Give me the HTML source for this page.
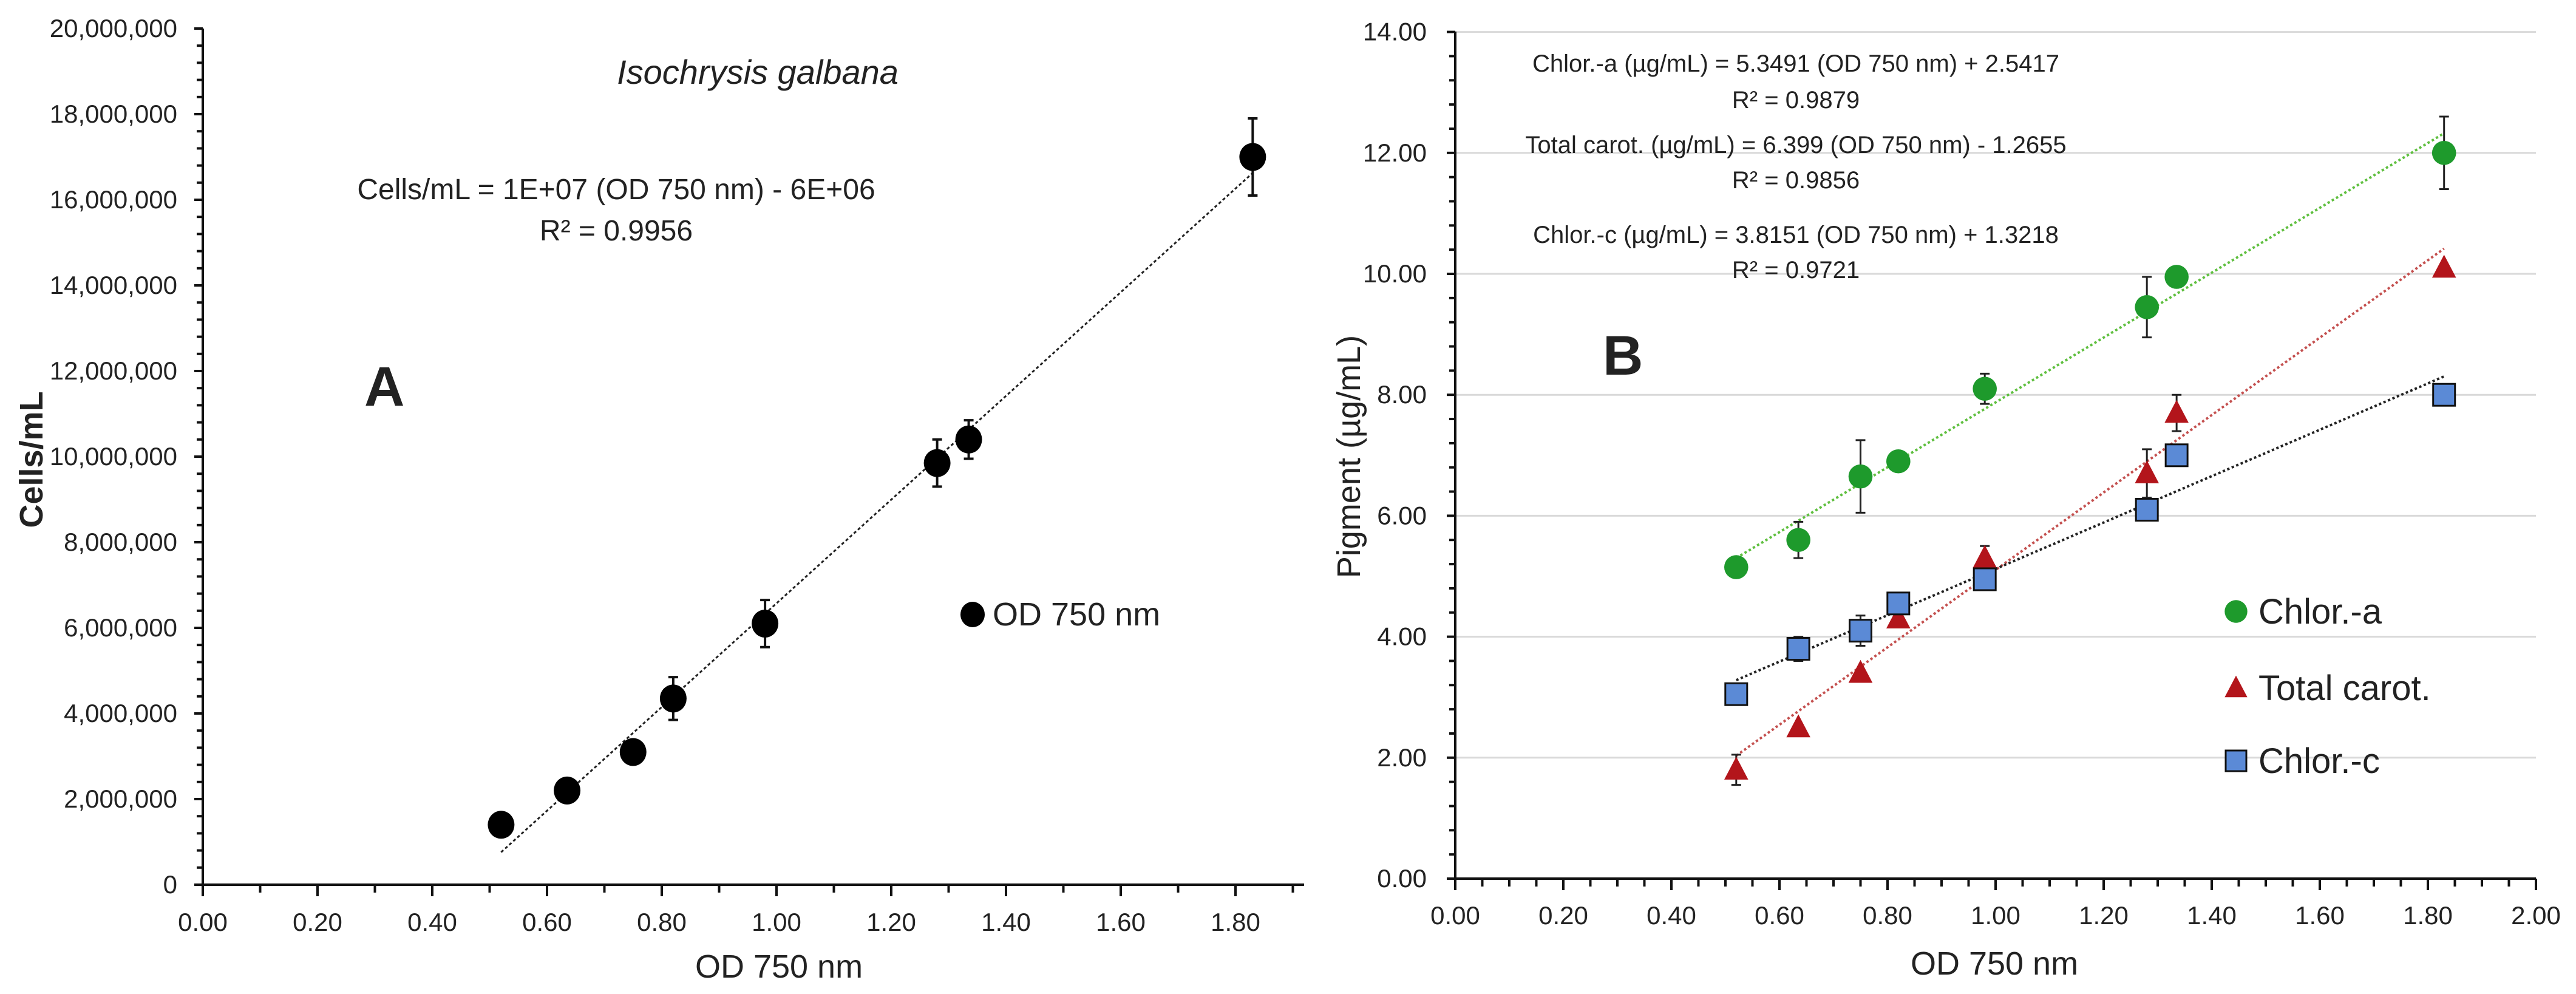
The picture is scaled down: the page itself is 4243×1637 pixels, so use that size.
<!DOCTYPE html>
<html><head><meta charset="utf-8"><style>
html,body{margin:0;padding:0;background:#fff;}
svg{display:block;}
text{font-family:"Liberation Sans Narrow","Liberation Sans",sans-serif;fill:#222;}
</style></head><body>
<svg id="svg" width="4243" height="1637" viewBox="0 0 4243 1637" xmlns="http://www.w3.org/2000/svg">
<g id="A"></g>
<g id="B"></g>
</svg>
<script>
// ---- Chart A data ----
const odA = [0.52, 0.635, 0.75, 0.82, 0.98, 1.28, 1.335, 1.83];
const cellsA = [1400000, 2200000, 3100000, 4350000, 6100000, 9850000, 10400000, 17000000];
const errA = [0, 0, 200000, 500000, 550000, 550000, 450000, 900000];
const xTicksA = ["0.00","0.20","0.40","0.60","0.80","1.00","1.20","1.40","1.60","1.80"];
const yTicksA = ["0","2,000,000","4,000,000","6,000,000","8,000,000","10,000,000","12,000,000","14,000,000","16,000,000","18,000,000","20,000,000"];
// ---- Chart B data ----
const odB = [0.52, 0.635, 0.75, 0.82, 0.98, 1.28, 1.335, 1.83];
const chlA = [5.15, 5.6, 6.65, 6.9, 8.1, 9.45, 9.95, 12.0];
const chlAErr = [0, 0.3, 0.6, 0, 0.25, 0.5, 0, 0.6];
const carot = [1.8, 2.5, 3.4, 4.3, 5.3, 6.7, 7.7, 10.1];
const carotErr = [0.25, 0, 0, 0, 0.2, 0.4, 0.3, 0];
const chlC = [3.05, 3.8, 4.1, 4.55, 4.95, 6.1, 7.0, 8.0];
const chlCErr = [0, 0.2, 0.25, 0, 0, 0, 0, 0];
const xTicksB = ["0.00","0.20","0.40","0.60","0.80","1.00","1.20","1.40","1.60","1.80","2.00"];
const yTicksB = ["0.00","2.00","4.00","6.00","8.00","10.00","12.00","14.00"];

const NS="http://www.w3.org/2000/svg";
function mk(parent, tag, attrs, txt){
  const e=document.createElementNS(NS,tag);
  for(const k in attrs) e.setAttribute(k,attrs[k]);
  if(txt!==undefined) e.textContent=txt;
  parent.appendChild(e); return e;
}
function fit(xs, ys){
  const n=xs.length; let sx=0,sy=0,sxx=0,sxy=0;
  for(let i=0;i<n;i++){sx+=xs[i];sy+=ys[i];sxx+=xs[i]*xs[i];sxy+=xs[i]*ys[i];}
  const m=(n*sxy-sx*sy)/(n*sxx-sx*sx); return [m,(sy-m*sx)/n];
}

// ===== Chart A =====
const gA=document.getElementById('A');
const xA=v=>334+945*v;
const yA=v=>1457-v/20000000*1410;
{
  // y axis
  let ax=mk(gA,'line',{x1:334,y1:47,x2:334,y2:1457,stroke:'#111','stroke-width':4});
   
  let bx=mk(gA,'line',{x1:320,y1:1457,x2:2148,y2:1457,stroke:'#111','stroke-width':4});
   
  for(let i=0;i<=50;i++){
    const y=yA(i*400000);
    mk(gA,'line',{x1:i%5==0?320:324,y1:y,x2:334,y2:y,stroke:'#111','stroke-width':4});
  }
  yTicksA.forEach((t,i)=>{
    const el=mk(gA,'text',{x:292,y:yA(i*2000000)+14,'text-anchor':'end','font-size':42},t);
     
  });
  for(let i=0;i<=19;i++){
    const x=xA(i*0.1);
    mk(gA,'line',{x1:x,y1:1457,x2:x,y2:i%2==0?1476:1470,stroke:'#111','stroke-width':4});
  }
  xTicksA.forEach((t,i)=>{
    const el=mk(gA,'text',{x:xA(i*0.2),y:1533,'text-anchor':'middle','font-size':42},t);
     
  });
  let t=mk(gA,'text',{x:1283,y:1610,'text-anchor':'middle','font-size':54},'OD 750 nm');
   
  t=mk(gA,'text',{x:0,y:0,'text-anchor':'middle','font-size':54,'font-weight':'bold','font-family':'Liberation Sans, sans-serif',transform:'translate(70,757) rotate(-90)'},'Cells/mL');
   
  t=mk(gA,'text',{x:1248,y:138,'text-anchor':'middle','font-size':56,'font-style':'italic'},'Isochrysis galbana');
   
  t=mk(gA,'text',{x:1015,y:328,'text-anchor':'middle','font-size':48},'Cells/mL = 1E+07 (OD 750 nm) - 6E+06');
   
  t=mk(gA,'text',{x:1015,y:396,'text-anchor':'middle','font-size':48},'R² = 0.9956');
   
  t=mk(gA,'text',{x:600,y:668,'font-size':92,'font-weight':'bold','font-family':'Liberation Sans, sans-serif',fill:'#111'},'A');
   
  const [m,b]=fit(odA,cellsA);
  const x0=odA[0], x1=odA[odA.length-1];
  t=mk(gA,'line',{x1:xA(x0),y1:yA(m*x0+b),x2:xA(x1),y2:yA(m*x1+b),stroke:'#222','stroke-width':3,'stroke-dasharray':'5,4'});
   
  odA.forEach((v,i)=>{
    if(errA[i]>0){
      const x=xA(v),y1=yA(cellsA[i]+errA[i]),y2=yA(cellsA[i]-errA[i]);
      const e=mk(gA,'path',{d:`M${x},${y1}V${y2}M${x-8},${y1}H${x+8}M${x-8},${y2}H${x+8}`,stroke:'#111','stroke-width':4,fill:'none'});
       
    }
    const c=mk(gA,'ellipse',{cx:xA(v),cy:yA(cellsA[i]),rx:22,ry:23,fill:'#000'});
     
  });
  t=mk(gA,'ellipse',{cx:1602,cy:1012,rx:20,ry:21,fill:'#000'});
   
  t=mk(gA,'text',{x:1635,y:1030,'font-size':54},'OD 750 nm');
   
}

// ===== Chart B =====
const gB=document.getElementById('B');
const xB=v=>2397+890*v;
const yB=v=>1447-v*99.6;
{
  yTicksB.forEach((t,i)=>{
    if(i>0){const g=mk(gB,'line',{x1:2397,y1:yB(i*2),x2:4177,y2:yB(i*2),stroke:'#d9d9d9','stroke-width':3});
       }
  });
  let ax=mk(gB,'line',{x1:2397,y1:52,x2:2397,y2:1447,stroke:'#111','stroke-width':4});
   
  let bx=mk(gB,'line',{x1:2383,y1:1447,x2:4177,y2:1447,stroke:'#111','stroke-width':4});
   
  for(let i=0;i<=35;i++){
    const y=yB(i*0.4);
    mk(gB,'line',{x1:i%5==0?2383:2387,y1:y,x2:2397,y2:y,stroke:'#111','stroke-width':4});
  }
  yTicksB.forEach((t,i)=>{
    const el=mk(gB,'text',{x:2350,y:yB(i*2)+14,'text-anchor':'end','font-size':42},t);
     
  });
  for(let i=0;i<=40;i++){
    const x=xB(i*0.05);
    mk(gB,'line',{x1:x,y1:1447,x2:x,y2:i%4==0?1466:1460,stroke:'#111','stroke-width':4});
  }
  xTicksB.forEach((t,i)=>{
    const el=mk(gB,'text',{x:xB(i*0.2),y:1522,'text-anchor':'middle','font-size':42},t);
     
  });
  let t=mk(gB,'text',{x:3285,y:1605,'text-anchor':'middle','font-size':54},'OD 750 nm');
   
  t=mk(gB,'text',{x:0,y:0,'text-anchor':'middle','font-size':54,'font-family':'Liberation Sans, sans-serif',transform:'translate(2240,752) rotate(-90)'},'Pigment (µg/mL)');
   
  const eqs=[['Chlor.-a (µg/mL) = 5.3491 (OD 750 nm) + 2.5417',118],['R² = 0.9879',178],
    ['Total carot. (µg/mL) = 6.399 (OD 750 nm) - 1.2655',252],['R² = 0.9856',310],
    ['Chlor.-c (µg/mL)  = 3.8151 (OD 750 nm)  + 1.3218',400],['R² = 0.9721',458]];
  eqs.forEach(([s,y],i)=>{
    const el=mk(gB,'text',{x:2958,y:y,'text-anchor':'middle','font-size':40},s);
     
  });
  t=mk(gB,'text',{x:2640,y:617,'font-size':92,'font-weight':'bold','font-family':'Liberation Sans, sans-serif',fill:'#111'},'B');
   

  const series=[
    {ys:chlA,err:chlAErr,fill:'#1e9a2c',line:'#5fbf3f',shape:'circle',name:'chlor-a'},
    {ys:carot,err:carotErr,fill:'#b3151b',line:'#c4504f',shape:'tri',name:'total-carot'},
    {ys:chlC,err:chlCErr,fill:'#5b8ad6',line:'#222',shape:'sq',name:'chlor-c'}];
  series.forEach(s=>{
    const [m,b]=fit(odB,s.ys); const x0=odB[0],x1=odB[odB.length-1];
    const l=mk(gB,'line',{x1:xB(x0),y1:yB(m*x0+b),x2:xB(x1),y2:yB(m*x1+b),stroke:s.line,'stroke-width':4,'stroke-dasharray':'4,4'});
     
  });
  function marker(s,x,y,sz){
    if(s.shape=='circle') return mk(gB,'circle',{cx:x,cy:y,r:sz*0.55,fill:s.fill});
    if(s.shape=='tri') return mk(gB,'path',{d:`M${x},${y-sz*0.6}L${x+sz*0.55},${y+sz*0.45}L${x-sz*0.55},${y+sz*0.45}Z`,fill:s.fill});
    return mk(gB,'rect',{x:x-sz/2,y:y-sz/2,width:sz,height:sz,fill:s.fill,stroke:'#111','stroke-width':3});
  }
  series.forEach(s=>{
    odB.forEach((v,i)=>{
      if(s.err[i]>0){
        const x=xB(v),y1=yB(s.ys[i]+s.err[i]),y2=yB(s.ys[i]-s.err[i]);
        const e=mk(gB,'path',{d:`M${x},${y1}V${y2}M${x-8},${y1}H${x+8}M${x-8},${y2}H${x+8}`,stroke:'#222','stroke-width':3,fill:'none'});
         
      }
      const p=marker(s,xB(v),yB(s.ys[i]),36);
       
    });
  });
  const leg=[['Chlor.-a',1007],['Total carot.',1133],['Chlor.-c',1253]];
  leg.forEach(([n,y],i)=>{
    const p=marker(series[i],3683,y,34);
     
    const el=mk(gB,'text',{x:3720,y:y+20,'font-size':58},n);
     
  });
}
</script>
</body></html>
